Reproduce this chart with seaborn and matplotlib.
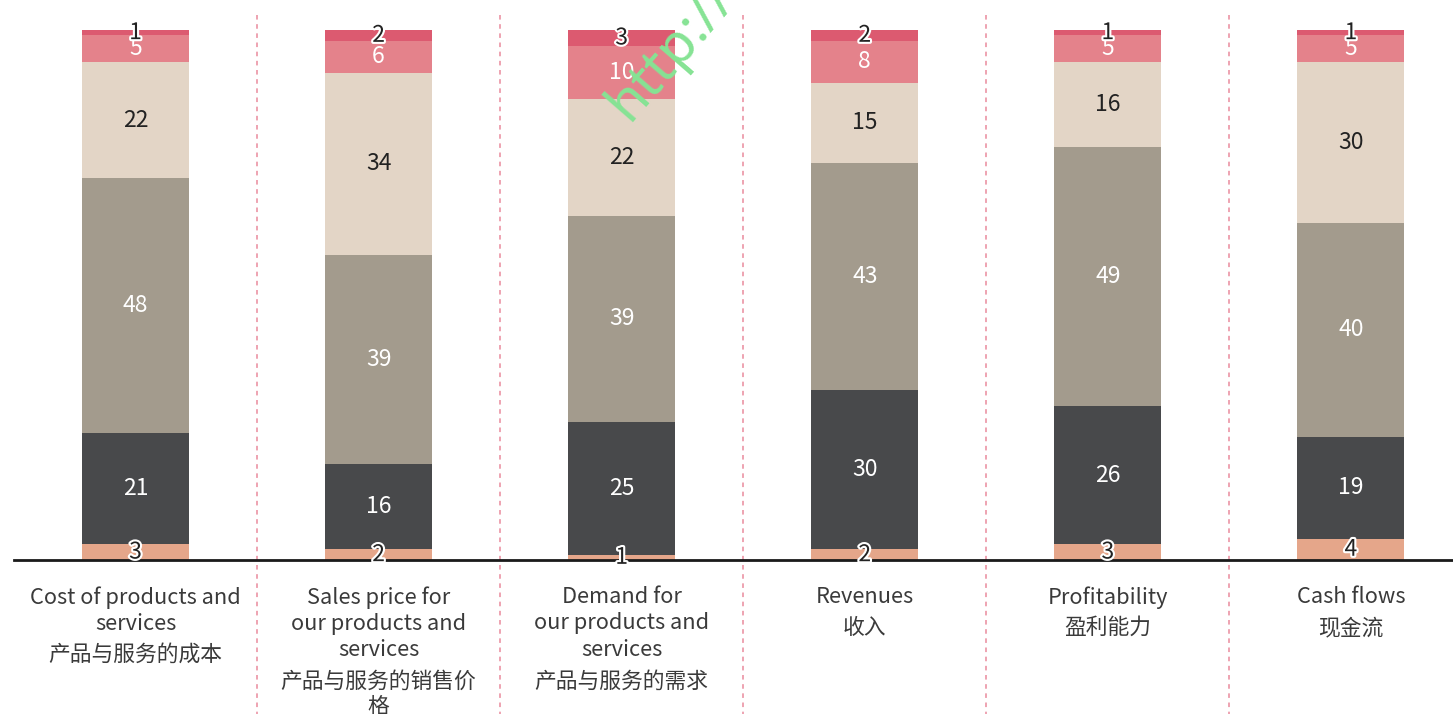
import pandas as pd
import seaborn as sns
import matplotlib.pyplot as plt
import matplotlib.patheffects as pe

cat_en = [
    "Cost of products and\nservices",
    "Sales price for\nour products and\nservices",
    "Demand for\nour products and\nservices",
    "Revenues",
    "Profitability",
    "Cash flows",
]
cat_zh = [
    "产品与服务的成本",
    "产品与服务的销售价\n格",
    "产品与服务的需求",
    "收入",
    "盈利能力",
    "现金流",
]
seg_bottom = [3, 2, 1, 2, 3, 4]
seg_dark = [21, 16, 25, 30, 26, 19]
seg_taupe = [48, 39, 39, 43, 49, 40]
seg_beige = [22, 34, 22, 15, 16, 30]
seg_pink = [5, 6, 10, 8, 5, 5]
seg_red = [1, 2, 3, 2, 1, 1]

segments = [seg_bottom, seg_dark, seg_taupe, seg_beige, seg_pink, seg_red]
colors = ["#E5A68A", "#48494B", "#A39B8D", "#E3D5C6", "#E4828B", "#DC5A70"]
text_colors = ["#222222", "white", "white", "#222222", "white", "#222222"]
outlined = [True, False, False, False, False, True]

sns.set_theme(style="white")
plt.rcParams["font.family"] = ["Noto Sans CJK SC", "DejaVu Sans"]

fig = plt.figure(figsize=(14.53, 7.14), dpi=100)
ax = fig.add_axes([14 / 1453, 154 / 714, 1 - 14 / 1453, 530 / 714])

# each bar is shown as a share of its own total (100%)
totals = [sum(t) for t in zip(*segments)]

x = list(range(len(cat_en)))
bottom = [0.0] * len(cat_en)
for vals, col, tcol, outl in zip(segments, colors, text_colors, outlined):
    share = [v / t * 100 for v, t in zip(vals, totals)]
    df = pd.DataFrame({"x": x, "v": share})
    sns.barplot(data=df, x="x", y="v", color=col, width=0.44, bottom=bottom,
                saturation=1, ax=ax, native_scale=True, errorbar=None,
                linewidth=0, edgecolor=col)
    cont = ax.containers[-1]
    effects = [pe.withStroke(linewidth=3, foreground="white")] if outl else None
    ax.bar_label(cont, labels=[str(v) for v in vals], label_type="center",
                 color=tcol, fontsize=16.5, path_effects=effects)
    bottom = [b + s for b, s in zip(bottom, share)]

ax.set_xlim(-0.5, 5.42)
ax.set_ylim(0, 100)
ax.set_xticks([])
ax.set_yticks([])
ax.set_xlabel("")
ax.set_ylabel("")
for s in ["top", "right", "left"]:
    ax.spines[s].set_visible(False)
ax.spines["bottom"].set_color("#1a1a1a")
ax.spines["bottom"].set_linewidth(2)

# dashed separators between categories
for i in range(len(cat_en) - 1):
    ax.plot([i + 0.5, i + 0.5], [1.028, -0.29], transform=ax.get_xaxis_transform(),
            color="#E98A9C", linestyle=(0, (3, 3)), linewidth=1.1, clip_on=False)

# category labels: English lines, then Chinese lines a little further down
line_h = 27 / 530
for i, (en, zh) in enumerate(zip(cat_en, cat_zh)):
    y0 = -26 / 530
    ax.text(i, y0, en, transform=ax.get_xaxis_transform(), ha="center", va="top",
            fontsize=15.7, color="#3a3a3a", linespacing=1.26)
    n = en.count("\n") + 1
    ax.text(i, y0 - n * line_h - 4 / 530, zh, transform=ax.get_xaxis_transform(),
            ha="center", va="top", fontsize=15.7, color="#3a3a3a", linespacing=1.15)

fig.text(628 / 1453, (714 - 122) / 714, "http://", rotation=49, rotation_mode="anchor",
         color="#86E394", fontsize=40, family=["Noto Sans", "DejaVu Sans"],
         fontweight="light", ha="left", va="baseline")

fig.savefig("out.png", dpi=100)
